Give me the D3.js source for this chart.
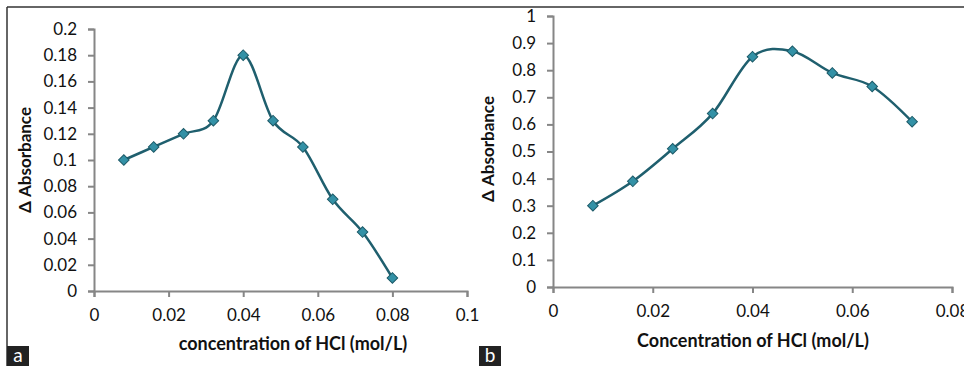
<!DOCTYPE html>
<html>
<head>
<meta charset="utf-8">
<script src="https://cdn.jsdelivr.net/npm/d3@7"></script>
<style>
  body { margin: 0; background: #fff; }
  svg text { font-family: Lato, "Open Sans", sans-serif; }
</style>
</head>
<body>
<svg id="chart" width="964" height="366"></svg>
<script>
// panel a
var concA = [0.008, 0.016, 0.024, 0.032, 0.04, 0.048, 0.056, 0.064, 0.072, 0.08];
var absA = [0.10, 0.11, 0.12, 0.13, 0.18, 0.13, 0.11, 0.07, 0.045, 0.01];
var xTicksA = [0, 0.02, 0.04, 0.06, 0.08, 0.1];
var yTicksA = [0, 0.02, 0.04, 0.06, 0.08, 0.1, 0.12, 0.14, 0.16, 0.18, 0.2];

// panel b
var concB = [0.008, 0.016, 0.024, 0.032, 0.04, 0.048, 0.056, 0.064, 0.072];
var absB = [0.30, 0.39, 0.51, 0.64, 0.85, 0.87, 0.79, 0.74, 0.61];
var xTicksB = [0, 0.02, 0.04, 0.06, 0.08];
var yTicksB = [0, 0.1, 0.2, 0.3, 0.4, 0.5, 0.6, 0.7, 0.8, 0.9, 1];

var svg = d3.select("#chart");

// frame lines
svg.append("line").attr("x1", 7).attr("x2", 964).attr("y1", 7).attr("y2", 7)
    .attr("stroke", "#333").attr("stroke-width", 1.5);
svg.append("line").attr("x1", 7).attr("x2", 7).attr("y1", 7).attr("y2", 366)
    .attr("stroke", "#333").attr("stroke-width", 1.5);

function drawPanel(opt) {
    var g = svg.append("g");
    var x = d3.scaleLinear().domain([0, opt.xMax]).range([opt.left, opt.right]);
    var y = d3.scaleLinear().domain([0, opt.yMax]).range([opt.bottom, opt.top]);

    var fmt = function(d){ return d3.format("~g")(+d.toFixed(3)); };

    var yAxis = g.append("g")
        .attr("transform", "translate(" + opt.left + ",0)")
        .call(d3.axisLeft(y).tickValues(opt.yTicks).tickSize(6).tickPadding(11).tickFormat(fmt));
    var xAxis = g.append("g")
        .attr("transform", "translate(0," + opt.bottom + ")")
        .call(d3.axisBottom(x).tickValues(opt.xTicks).tickSize(6).tickPadding(12).tickFormat(fmt));

    [xAxis, yAxis].forEach(function(a){
        a.select(".domain").attr("stroke", "#868686").attr("stroke-width", 2);
        a.selectAll(".tick line").attr("stroke", "#868686").attr("stroke-width", 2);
        a.selectAll(".tick text").attr("fill", "#111").style("font-size", "17px");
    });

    var pts = opt.xs.map(function(d, i){ return [d, opt.ys[i]]; });

    var line = d3.line()
        .x(function(d){ return x(d[0]); })
        .y(function(d){ return y(d[1]); })
        .curve(d3.curveCardinal.tension(0));

    g.append("path")
        .datum(pts)
        .attr("d", line)
        .attr("fill", "none")
        .attr("stroke", "#1f5f6e")
        .attr("stroke-width", 2.5);

    g.selectAll(".pt")
        .data(pts)
        .enter()
        .append("path")
        .attr("class", "pt")
        .attr("d", d3.symbol().type(d3.symbolSquare).size(56))
        .attr("transform", function(d){ return "translate(" + x(d[0]) + "," + y(d[1]) + ") rotate(45)"; })
        .attr("fill", "#3391a6")
        .attr("stroke", "#1d5a68")
        .attr("stroke-width", 1);

    g.append("text")
        .attr("x", opt.xTitleX).attr("y", opt.xTitleY)
        .attr("text-anchor", "middle")
        .style("font-size", "18px").style("font-weight", "bold")
        .attr("fill", "#111")
        .text(opt.xTitle);

    g.append("text")
        .attr("transform", "translate(" + opt.yTitleX + "," + opt.yTitleY + ") rotate(-90)")
        .attr("text-anchor", "middle")
        .style("font-size", "17px").style("font-weight", "bold")
        .attr("fill", "#111")
        .text("Δ Absorbance");

    // panel letter
    g.append("rect").attr("x", opt.tagX).attr("y", 346).attr("width", 22).attr("height", 20)
        .attr("fill", "#222");
    g.append("text").attr("x", opt.tagX + 11).attr("y", 362)
        .attr("text-anchor", "middle").attr("fill", "#fff")
        .style("font-size", "19px")
        .text(opt.tag);
}

drawPanel({
    xs: concA, ys: absA, xTicks: xTicksA, yTicks: yTicksA,
    xMax: 0.1, yMax: 0.2,
    left: 94, right: 467, top: 29, bottom: 291,
    xTitle: "concentration of HCl (mol/L)", xTitleX: 293, xTitleY: 350,
    yTitleX: 31, yTitleY: 160,
    tag: "a", tagX: 7
});

drawPanel({
    xs: concB, ys: absB, xTicks: xTicksB, yTicks: yTicksB,
    xMax: 0.08, yMax: 1,
    left: 553, right: 952, top: 16, bottom: 287,
    xTitle: "Concentration of HCl (mol/L)", xTitleX: 753, xTitleY: 347,
    yTitleX: 494, yTitleY: 149,
    tag: "b", tagX: 479
});
</script>
</body>
</html>
